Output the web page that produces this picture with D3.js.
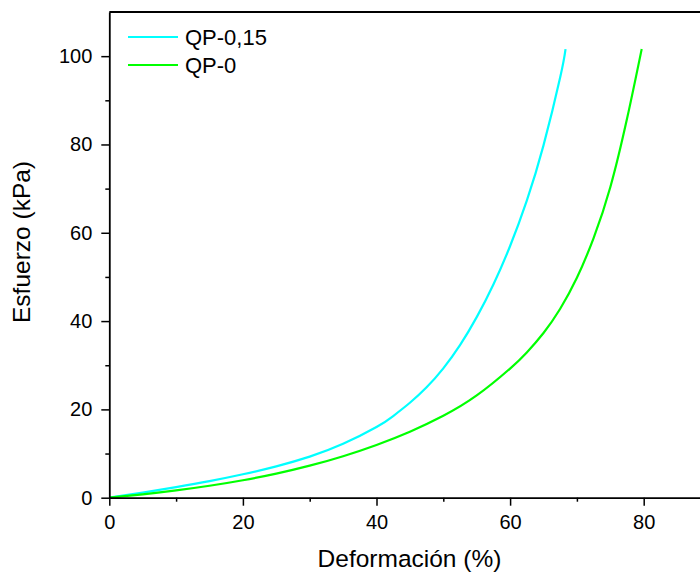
<!DOCTYPE html>
<html>
<head>
<meta charset="utf-8">
<script src="https://cdn.jsdelivr.net/npm/d3@7"></script>
<style>
  body { margin: 0; background: #fff; }
  svg { display: block; font-family: "Liberation Sans", Arial, sans-serif; }
</style>
</head>
<body>
<svg width="700" height="573"></svg>
<script>
// data
const qp015_x = [0, 5, 10, 15, 20, 25, 30, 35, 40, 42.5, 45, 47.5, 50, 52.5, 55, 57.5, 60, 62.5, 65, 67.5, 68.3];
const qp015_y = [0, 1.15, 2.4, 3.75, 5.3, 7.1, 9.3, 12.2, 16.0, 18.5, 21.5, 25.0, 29.3, 34.55, 40.9, 48.3, 57.0, 67.3, 79.8, 95.2, 101.6];
const qp0_x = [0, 5, 10, 15, 20, 25, 30, 35, 40, 45, 50, 55, 60, 62.5, 65, 67.5, 70, 72.5, 75, 77.5, 79.7];
const qp0_y = [0, 0.75, 1.65, 2.7, 3.95, 5.45, 7.25, 9.4, 11.95, 14.95, 18.55, 23.15, 29.25, 32.9, 37.3, 42.8, 49.8, 58.8, 70.3, 85.8, 101.6];
const seriesNames = ["QP-0,15", "QP-0"];
const seriesColors = ["#00ffff", "#00ff00"];
const xMajor = [0, 20, 40, 60, 80];
const xMinor = [10, 30, 50, 70, 90];
const yMajor = [0, 20, 40, 60, 80, 100];
const yMinor = [10, 30, 50, 70, 90];

const mLeft = 109.3, mTop = 12, mBottom = 497.7;
const svg = d3.select("svg");

const x = d3.scaleLinear().domain([0, 90]).range([mLeft, mLeft + 90 * 6.68]);
const y = d3.scaleLinear().domain([0, 110]).range([mBottom, mTop]);

const series = [
  { name: seriesNames[0], color: seriesColors[0], pts: qp015_x.map((v, i) => [v, qp015_y[i]]) },
  { name: seriesNames[1], color: seriesColors[1], pts: qp0_x.map((v, i) => [v, qp0_y[i]]) }
];

const line = d3.line()
  .x(d => x(d[0]))
  .y(d => y(d[1]))
  .curve(d3.curveNatural);

// curves (green ends up over cyan near the origin)
svg.append("g")
  .selectAll("path")
  .data(series)
  .join("path")
    .attr("d", d => line(d.pts))
    .attr("fill", "none")
    .attr("stroke", d => d.color)
    .attr("stroke-width", 2.2);

// minor ticks
svg.append("g")
  .attr("transform", "translate(0," + mBottom + ")")
  .call(d3.axisBottom(x).tickValues(xMinor).tickSize(4).tickFormat(""))
  .call(g => g.select(".domain").remove());
svg.append("g")
  .attr("transform", "translate(" + mLeft + ",0)")
  .call(d3.axisLeft(y).tickValues(yMinor).tickSize(4).tickFormat(""))
  .call(g => g.select(".domain").remove());

// major axes
svg.append("g")
  .attr("class", "xaxis")
  .attr("transform", "translate(0," + mBottom + ")")
  .call(d3.axisBottom(x).tickValues(xMajor).tickSize(8).tickSizeOuter(0).tickPadding(9));
svg.append("g")
  .attr("class", "yaxis")
  .attr("transform", "translate(" + mLeft + ",0)")
  .call(d3.axisLeft(y).tickValues(yMajor).tickSize(8).tickSizeOuter(0).tickPadding(9));

svg.selectAll(".tick line").attr("stroke", "#000").attr("stroke-width", 1.5);
svg.selectAll(".domain").attr("stroke", "#000").attr("stroke-width", 1.8);
svg.selectAll(".xaxis text, .yaxis text")
  .attr("font-family", "Liberation Sans, Arial, sans-serif")
  .attr("font-size", 20)
  .attr("fill", "#000");

// top frame line
svg.append("line")
  .attr("x1", x(0)).attr("x2", 700)
  .attr("y1", y(110)).attr("y2", y(110))
  .attr("stroke", "#000").attr("stroke-width", 1.8);

// axis titles
svg.append("text")
  .attr("x", 409.5).attr("y", 567)
  .attr("text-anchor", "middle")
  .attr("font-size", 24.5)
  .text("Deformación (%)");
svg.append("text")
  .attr("transform", "translate(30,242) rotate(-90)")
  .attr("text-anchor", "middle")
  .attr("font-size", 24.5)
  .text("Esfuerzo (kPa)");

// legend
const legend = svg.append("g").attr("transform", "translate(128,37)");
const item = legend.selectAll("g")
  .data(series)
  .join("g")
    .attr("transform", (d, i) => "translate(0," + i * 28 + ")");
item.append("line")
  .attr("x1", 0).attr("x2", 50)
  .attr("stroke", d => d.color)
  .attr("stroke-width", 2.2);
item.append("text")
  .attr("x", 57).attr("y", 8)
  .attr("font-size", 22)
  .text(d => d.name);
</script>
</body>
</html>
